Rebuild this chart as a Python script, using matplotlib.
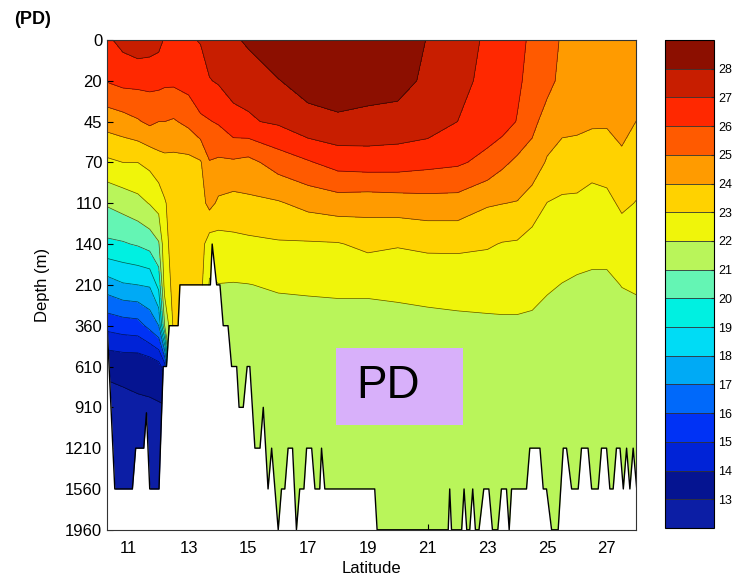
import numpy as np
import matplotlib
matplotlib.use("Agg")
import matplotlib.pyplot as plt
from matplotlib.colors import ListedColormap
from matplotlib.patches import Rectangle

plt.rcParams['font.family'] = ['Liberation Sans', 'DejaVu Sans']

# depth levels (m), plotted on an evenly spaced level axis
depth_levels = [0, 20, 45, 70, 110, 140, 210, 360, 610, 910, 1210, 1560, 1960]

# latitudes of the temperature profiles
lats = [10.25, 10.8, 11.3, 11.7, 12.0, 12.2, 12.5, 13.0, 13.4, 13.7, 14.0, 14.5,
        15.0, 16.0, 17.0, 18.0, 19.0, 20.0, 21.0, 22.0, 23.0, 23.5, 24.0, 24.5,
        25.0, 25.5, 26.0, 26.5, 27.0, 27.5, 28.0]

deep = [21.5, 21.35, 21.25, 21.2, 21.15]
# temperature (degC) at each depth level, one profile per latitude
temp_profiles = [
    [26.8, 26.05, 24.4, 22.8, 21.1, 19.8, 17.5, 15.3, 13.1, 12.8, 12.7, 12.6, 12.5],
    [27.3, 26.3, 24.6, 23.0, 21.4, 19.9, 17.9, 15.5, 13.2, 12.8, 12.7, 12.6, 12.5],
    [27.6, 26.3, 24.9, 23.0, 21.7, 20.1, 18.0, 15.6, 13.2, 12.9, 12.7, 12.6, 12.5],
    [27.5, 26.3, 25.2, 23.25, 22.05, 20.4, 18.1, 16.3, 13.3, 12.9, 12.7, 12.6, 12.5],
    [27.3, 26.3, 25.0, 23.6, 22.4, 20.9, 19.3, 17.0, 13.6, 12.9, 12.8, 12.7, 12.6],
    [26.9, 26.2, 25.0, 23.7, 22.9, 22.7, 22.4, 21.0, 14.5, 12.9, 12.8, 12.7, 12.6],
    [26.7, 26.2, 24.9, 23.7, 23.5, 23.4, 23.3, 23.2, 23.1, 23.0, 23.0, 23.0, 23.0],
    [26.9, 26.4, 25.25, 23.7, 23.5, 23.4, 23.3, 23.2, 23.1, 23.0, 23.0, 23.0, 23.0],
    [27.05, 26.6, 25.85, 23.9, 23.6, 23.4, 23.3, 23.2, 23.1, 23.0, 23.0, 23.0, 23.0],
    [27.5, 26.95, 25.95, 24.95, 24.3, 22.5, 21.9, 21.6] + deep,
    [27.6, 27.1, 26.1, 24.84, 23.82, 22.58, 21.98, 21.6] + deep,
    [27.8, 27.3, 26.75, 24.85, 23.65, 22.73, 21.95, 21.6] + deep,
    [28.2, 27.3, 26.9, 24.7, 23.8, 22.78, 21.98, 21.6] + deep,
    [28.5, 27.97, 27.15, 25.45, 23.9, 22.9, 22.1, 21.6] + deep,
    [28.7, 28.3, 27.75, 25.9, 24.3, 22.9, 22.15, 21.6] + deep,
    [28.8, 28.5, 27.85, 26.4, 24.5, 22.94, 22.2, 21.6] + deep,
    [28.8, 28.4, 27.75, 26.5, 24.42, 23.22, 22.2, 21.6] + deep,
    [28.7, 28.35, 27.65, 26.47, 24.5, 23.07, 22.3, 21.6] + deep,
    [27.95, 27.8, 27.5, 26.3, 24.6, 23.2, 22.3, 21.75] + deep,
    [27.6, 27.4, 27.0, 26.15, 24.6, 23.2, 22.35, 21.8] + deep,
    [26.8, 26.65, 26.55, 25.7, 24.1, 23.1, 22.35, 21.85] + deep,
    [26.6, 26.5, 26.45, 25.2, 24.02, 22.95, 22.4, 21.85] + deep,
    [26.3, 26.2, 25.95, 24.8, 23.95, 22.9, 22.4, 21.85] + deep,
    [25.8, 25.6, 25.3, 24.55, 23.55, 22.6, 22.25, 21.85] + deep,
    [25.4, 25.35, 24.55, 23.9, 22.98, 22.5, 22.1, 21.7] + deep,
    [24.9, 24.7, 24.3, 23.55, 22.85, 22.4, 21.98, 21.7] + deep,
    [24.8, 24.6, 24.2, 23.6, 22.8, 22.3, 21.9, 21.65] + deep,
    [24.85, 24.65, 24.15, 23.3, 22.7, 22.25, 21.85, 21.65] + deep,
    [24.9, 24.7, 24.1, 23.5, 22.7, 22.25, 21.85, 21.65] + deep,
    [24.9, 24.7, 24.3, 23.8, 23.2, 22.4, 22.02, 21.7] + deep,
    [24.95, 24.6, 23.98, 23.5, 22.95, 22.5, 22.1, 21.7] + deep,
]

# sea floor along the section
bottom_lat = [10.25, 10.53, 11.12, 11.23, 11.50, 11.59, 11.70, 12.01, 12.15, 12.26,
              12.35, 12.65, 12.71, 13.73, 13.79, 13.94, 14.05, 14.16, 14.32, 14.44,
              14.61, 14.69, 14.83, 14.96, 15.05, 15.22, 15.39, 15.50, 15.66, 15.78,
              16.00, 16.11, 16.22, 16.33, 16.48, 16.61, 16.72, 16.86, 16.95, 17.12,
              17.23, 17.39, 17.45, 17.56, 19.23, 19.31, 21.69, 21.74, 21.80, 22.14,
              22.22, 22.31, 22.41, 22.51, 22.60, 22.72, 22.88, 23.05, 23.17, 23.35,
              23.47, 23.64, 23.73, 23.81, 24.31, 24.42, 24.76, 24.87, 24.98, 25.15,
              25.37, 25.54, 25.65, 25.82, 26.04, 26.15, 26.37, 26.49, 26.71, 26.82,
              26.99, 27.10, 27.21, 27.32, 27.44, 27.55, 27.66, 27.77, 27.88, 28.0]
bottom_depth = [300, 1560, 1560, 1210, 1210, 950, 1560, 1560, 610, 610,
                360, 360, 210, 210, 140, 210, 210, 360, 360, 610,
                610, 910, 910, 610, 610, 1210, 1210, 910, 1560, 1210,
                1960, 1560, 1560, 1210, 1210, 1960, 1560, 1560, 1210, 1210,
                1560, 1560, 1210, 1560, 1560, 1960, 1960, 1560, 1960, 1960,
                1560, 1960, 1960, 1560, 1960, 1960, 1560, 1560, 1960, 1960,
                1560, 1560, 1960, 1560, 1560, 1210, 1210, 1560, 1560, 1960,
                1960, 1210, 1210, 1560, 1560, 1210, 1210, 1560, 1560, 1210,
                1210, 1560, 1560, 1210, 1210, 1560, 1210, 1560, 1210, 1560]

levels = np.arange(12, 30)
bin_colors = ['#0C1EA5', '#051491', '#0023D7', '#0032F5', '#0069FA', '#00AAF5',
              '#00DCF5', '#00F0E1', '#64F5B4', '#B9F55A', '#F0F50A', '#FFD200',
              '#FF9B00', '#FF5A00', '#FF2800', '#C81E00', '#8C0F00']
cmap = ListedColormap(bin_colors)

level_idx = np.arange(len(depth_levels))
temp = np.array(temp_profiles).T

fig = plt.figure(figsize=(7.38, 5.79), dpi=100)
ax = fig.add_axes([0.145, 0.085, 0.717, 0.846])
cax = fig.add_axes([0.901, 0.088, 0.066, 0.843])

cf = ax.contourf(lats, level_idx, temp, levels=levels, cmap=cmap, vmin=12, vmax=29)
ax.contour(lats, level_idx, temp, levels=levels[1:-1], colors='k',
           linewidths=0.5, alpha=0.65)

bottom_idx = np.interp(bottom_depth, depth_levels, level_idx)
ax.fill_between(bottom_lat, bottom_idx, 12, color='white', zorder=3, lw=0)
ax.plot(bottom_lat, bottom_idx, color='k', lw=1, zorder=4)

ax.set_xlim(10.27, 27.98)
ax.set_ylim(12, 0)
ax.set_yticks(level_idx)
ax.set_yticklabels([str(d) for d in depth_levels])
ax.set_xticks(range(11, 28, 2))
ax.tick_params(direction='in', length=4, width=0.8, labelsize=12)
ax.tick_params(axis='x', pad=8)
ax.set_xlabel('Latitude', fontsize=12, labelpad=4)
ax.set_ylabel('Depth (m)', fontsize=12, labelpad=11)
for s in ax.spines.values():
    s.set_linewidth(0.8)
    s.set_color('#333333')
    s.set_zorder(6)

ax.add_patch(Rectangle((0.433, 0.214), 0.240, 0.157, transform=ax.transAxes,
                       facecolor='#D8B0FA', edgecolor='none', zorder=5))
ax.text(0.532, 0.294, 'PD', transform=ax.transAxes, fontsize=33,
        ha='center', va='center', zorder=6)

cb = fig.colorbar(cf, cax=cax, ticks=range(13, 29), drawedges=True)
cb.dividers.set_color('#333333')
cb.dividers.set_linewidth(0.6)
cb.outline.set_linewidth(0.8)
cb.ax.tick_params(labelsize=9, length=2, direction='in')

fig.text(0.019, 0.967, '(PD)', fontsize=13, fontweight='bold', va='center')

fig.savefig('out.png', dpi=100)
